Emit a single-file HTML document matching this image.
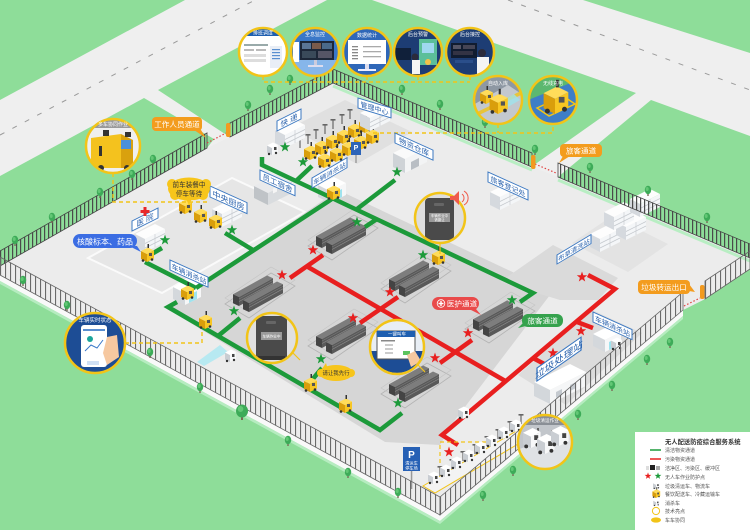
<!DOCTYPE html>
<html><head><meta charset="utf-8"><style>
html,body{margin:0;padding:0;background:#efefef;}
svg{display:block}
text{font-family:"Liberation Sans","Noto Sans CJK SC",sans-serif;}
</style></head><body>
<svg width="750" height="530" viewBox="0 0 750 530" xmlns="http://www.w3.org/2000/svg">
<defs>
<pattern id="fp" width="4" height="100" patternUnits="userSpaceOnUse"><rect width="1.2" height="100" fill="#4a4a4a"/></pattern>
<pattern id="fpb" width="5" height="100" patternUnits="userSpaceOnUse"><rect width="1.1" height="100" fill="#6a6a6a"/></pattern>
<polygon id="st" points="0,-5.5 1.3,-1.8 5.2,-1.7 2.1,0.7 3.2,4.5 0,2.2 -3.2,4.5 -2.1,0.7 -5.2,-1.7 -1.3,-1.8"/>
<g id="tr"><rect x="-0.7" y="0" width="1.4" height="5" fill="#7a6a55"/><ellipse cx="0" cy="-1" rx="3.2" ry="4.2" fill="#3dab58"/><ellipse cx="-0.8" cy="-2" rx="1.5" ry="2" fill="#62c775"/></g>
<g id="yv"><polygon points="-6,-3 0,0 0,-8 -6,-11" fill="#d99e0c"/><polygon points="0,0 7,-3.5 7,-11.5 0,-8" fill="#f7c623"/><polygon points="-6,-11 0,-8 7,-11.5 1,-14.5" fill="#ffdc5a"/><rect x="2" y="-9" width="3" height="3" fill="#555"/><rect x="0.5" y="-18" width="1.5" height="4" fill="#333"/><circle cx="-4" cy="-1.5" r="1.3" fill="#333"/><circle cx="5" cy="-2.5" r="1.3" fill="#333"/></g>
<g id="wv"><polygon points="-5,-2.5 0,0 0,-7 -5,-9.5" fill="#c9cdd2"/><polygon points="0,0 6,-3 6,-10 0,-7" fill="#f7f8f9"/><polygon points="-5,-9.5 0,-7 6,-10 1,-12.5" fill="#ffffff"/><rect x="2" y="-8" width="2.5" height="3" fill="#444"/><circle cx="-3" cy="-1" r="1.2" fill="#333"/><circle cx="4" cy="-2" r="1.2" fill="#333"/></g>
<g id="rk"><polygon points="-18,-3 16,-21.7 10,-24.5 -24,-5.8" fill="#7d7d7d"/><polygon points="-18,6 16,-12.7 16,-21.7 -18,-3" fill="#595959"/><polygon points="-18,6 -18,-3 -24,-5.8 -24,3.2" fill="#444"/><line x1="-18" y1="1.5" x2="16" y2="-17.2" stroke="#8c8c8c" stroke-width="0.6"/><line x1="-18" y1="-1" x2="16" y2="-19.7" stroke="#8c8c8c" stroke-width="0.4"/></g>
<g id="rg"><polygon points="-32,4 14,-27 38,-14 -8,18" fill="none" stroke="#b3b3b3" stroke-width="0.8"/><polygon points="-32,-2 14,-33 38,-20 -8,12" fill="none" stroke="#c4c4c4" stroke-width="0.6"/><use href="#rk"/><use href="#rk" x="10" y="6"/></g>
<g id="wb"><polygon points="0,0 -10,-5 -10,-18 0,-13" fill="#d5d9de"/><polygon points="0,0 20,-10 20,-23 0,-13" fill="#f4f6f8"/><polygon points="0,-13 20,-23 10,-28 -10,-18" fill="#fdfdfd"/><line x1="0" y1="-4" x2="20" y2="-14" stroke="#c4c8cd" stroke-width="0.7"/><line x1="0" y1="-8.5" x2="20" y2="-18.5" stroke="#c4c8cd" stroke-width="0.7"/><line x1="10" y1="-5" x2="10" y2="-18" stroke="#c4c8cd" stroke-width="0.6"/></g>
<g id="ss"><polygon points="0,0 -12,-6 -12,-18 0,-12" fill="#d4d8dc"/><polygon points="0,0 16,-8 16,-20 0,-12" fill="#f6f7f8"/><polygon points="0,-12 16,-20 4,-26 -12,-18" fill="#ffffff"/><polygon points="4,-2 12,-6 12,-14 4,-10" fill="#9fe3ee"/></g>
<g id="ch"><rect x="-0.7" y="-9" width="1.4" height="9" fill="#7a7a7a"/><rect x="-2.5" y="-10" width="5" height="1.6" fill="#666"/></g>
<clipPath id="c24"><circle r="23"/></clipPath>
<clipPath id="c25"><circle r="24"/></clipPath>
<clipPath id="c27"><circle r="26"/></clipPath>
<clipPath id="c30"><circle r="29"/></clipPath>
</defs>

<!-- background roads -->
<rect width="750" height="530" fill="#efefef"/>
<!-- grass -->
<g fill="#8edd99">
<polygon points="0,0 185,0 0,100"/>
<polygon points="0,176 144,98 214,139 207,148 0,266"/>
<polygon points="158,90 327,0 372,0 636,93 534,165 532,167 333,83 230,137 222,132"/>
<polygon points="651,100 750,136 750,258 558,177"/>
<polygon points="583,0 750,0 750,53"/>
<polygon points="0,275 440,515 683,310 705,299 750,269 750,530 0,530"/>
</g>
<!-- road dashes -->
<line x1="0" y1="135" x2="255" y2="0" stroke="#9a9a9a" stroke-width="1" stroke-dasharray="5 9"/>
<line x1="508" y1="0" x2="750" y2="90" stroke="#9a9a9a" stroke-width="1" stroke-dasharray="5 9"/>

<!-- platform -->
<polygon points="0,266 207,148 230,137 333,83 532,167 558,177 750,258 750,269 705,299 683,310 440,515 0,275" fill="#ececec"/>
<polygon points="0,275 440,515 683,310 683,316 440,521 0,281" fill="#f9f9f9"/>
<polygon points="0,281 440,521 683,316 683,319 440,524 0,284" fill="#b6ecc0"/>
<polyline points="333,86 532,170" fill="none" stroke="#b8eec3" stroke-width="3"/>
<polyline points="558,180 750,261" fill="none" stroke="#b8eec3" stroke-width="3"/>

<!-- zones -->
<polygon points="290,128 345,100 412,132 357,164" fill="#e0e0e0"/>
<polygon points="88,258 232,178 305,212 162,293" fill="#e6e6e6" stroke="#fafafa" stroke-width="2"/>
<polygon points="338,190 553,291 455,420 440,445 385,442 166,308 196,288" fill="#d6d6d6"/>
<polygon points="500,282 553,245 618,278 598,300 560,300" fill="#dadada"/>
<polygon points="572,243 612,216 668,244 628,272" fill="#e3e3e3"/>
<polygon points="518,375 592,310 642,333 566,405" fill="#dcdcdc"/>

<!-- parking top -->
<use href="#ch" x="300" y="148"/><use href="#ch" x="308" y="144"/><use href="#ch" x="316" y="139"/><use href="#ch" x="325" y="134"/><use href="#ch" x="333" y="129"/><use href="#ch" x="342" y="124"/><use href="#ch" x="350" y="119"/>
<use href="#yv" x="310" y="160"/><use href="#yv" x="321" y="155"/><use href="#yv" x="332" y="149"/><use href="#yv" x="343" y="144"/><use href="#yv" x="354" y="138"/><use href="#yv" x="365" y="133"/>
<use href="#yv" x="324" y="168"/><use href="#yv" x="336" y="162"/><use href="#yv" x="348" y="156"/><use href="#yv" x="360" y="150"/><use href="#yv" x="372" y="144"/>
<rect x="351" y="142" width="10" height="13" fill="#2d64b8"/><text x="356" y="150" font-size="7" fill="#fff" text-anchor="middle" font-weight="bold">P</text><rect x="355.3" y="155" width="1.4" height="8" fill="#999"/>

<!-- buildings -->
<use href="#wb" x="285" y="148"/>
<use href="#wb" x="370" y="131"/>
<use href="#wb" x="222" y="227"/>
<use href="#wb" x="145" y="252"/>
<use href="#wb" x="500" y="210"/>
<use href="#wb" x="600" y="252"/><use href="#wb" x="626" y="240"/><use href="#wb" x="614" y="230"/><use href="#wb" x="640" y="217"/>
<g transform="translate(268,205)"><polygon points="0,0 -14,-7 -14,-19 0,-12" fill="#bfc3c7"/><polygon points="0,0 24,-12 24,-24 0,-12" fill="#d9dcdf"/><polygon points="0,-12 24,-24 10,-31 -14,-19" fill="#e9eaec"/><rect x="5" y="-14" width="4" height="5" fill="#f5f5f5" transform="skewY(-26)"/></g>
<g transform="translate(405,173)"><polygon points="0,0 -12,-6 -12,-20 0,-14" fill="#cfd3d7"/><polygon points="0,0 22,-11 22,-25 0,-14" fill="#f3f4f5"/><polygon points="0,-14 22,-25 10,-31 -12,-20" fill="#fafafa"/><polygon points="6,-3 14,-7 14,-15 6,-11" fill="#b9bec4"/></g>
<use href="#ss" x="185" y="305"/>
<use href="#ss" x="330" y="203"/>
<use href="#ss" x="605" y="352"/>
<g transform="translate(550,404)"><polygon points="0,0 -16,-8 -16,-22 0,-14" fill="#d3d7db"/><polygon points="0,0 36,-18 36,-32 0,-14" fill="#f5f6f7"/><polygon points="0,-14 36,-32 20,-40 -16,-22" fill="#ffffff"/><polygon points="6,-6 12,-9 12,-15 6,-12" fill="#c5cad0"/><polygon points="20,-13 26,-16 26,-22 20,-19" fill="#c5cad0"/></g>
<polygon points="197,362 220,345 228,352 204,366" fill="#aee9f2" opacity="0.85"/>

<!-- racks -->
<use href="#rg" x="340" y="242"/>
<use href="#rg" x="257" y="300"/>
<use href="#rg" x="413" y="285"/>
<use href="#rg" x="340" y="342"/>
<use href="#rg" x="497" y="325"/>
<use href="#rg" x="413" y="390"/>

<!-- green paths -->
<g fill="none" stroke="#1c9a3a" stroke-width="4.5" stroke-linejoin="miter" stroke-linecap="butt">
<polyline points="262,157 262,165 533,293 520,302"/>
<polyline points="312,166 296,181"/>
<polyline points="357,209 395,180"/>
<polyline points="377,219 365,227"/>
<polyline points="335,197 196,288"/>
<polyline points="225,233 253,250"/>
<polyline points="145,262 196,288"/>
<polyline points="150,255 162,248"/>
<polyline points="177,302 168,307 380,430 402,413"/>
<polyline points="218,336 240,318"/>
<polyline points="307,386 322,368"/>
</g>
<!-- red paths -->
<g fill="none" stroke="#e81f1f" stroke-width="4.5" stroke-linejoin="miter">
<polyline points="308,267 507,382"/>
<polyline points="290,278 323,255"/>
<polyline points="360,323 398,297"/>
<polyline points="440,363 472,340"/>
<polyline points="588,275 615,289 442,435 458,445"/>
<polyline points="577,322 593,328"/>
<polyline points="533,358 548,366"/>
</g>

<!-- stars -->
<g fill="#1c9a3a">
<use href="#st" x="285" y="147"/><use href="#st" x="303" y="162"/><use href="#st" x="232" y="230"/><use href="#st" x="165" y="240"/><use href="#st" x="357" y="222"/><use href="#st" x="397" y="172"/><use href="#st" x="423" y="255"/><use href="#st" x="512" y="300"/><use href="#st" x="234" y="311"/><use href="#st" x="321" y="359"/><use href="#st" x="398" y="403"/>
</g>
<g fill="#e81f1f">
<use href="#st" x="282" y="275"/><use href="#st" x="313" y="250"/><use href="#st" x="390" y="292"/><use href="#st" x="353" y="318"/><use href="#st" x="468" y="333"/><use href="#st" x="435" y="358"/><use href="#st" x="582" y="277"/><use href="#st" x="581" y="331"/><use href="#st" x="553" y="353"/><use href="#st" x="449" y="452"/>
</g>

<!-- vehicles -->
<use href="#wv" x="272" y="155"/>
<use href="#yv" x="147" y="262"/>
<use href="#yv" x="185" y="214"/><use href="#yv" x="200" y="223"/><use href="#yv" x="215" y="229"/>
<use href="#yv" x="187" y="300"/>
<use href="#yv" x="333" y="200"/>
<use href="#yv" x="438" y="265"/>
<use href="#yv" x="205" y="329"/>
<use href="#yv" x="310" y="392"/>
<use href="#yv" x="345" y="413"/>
<use href="#wv" x="230" y="362"/>
<use href="#wv" x="463" y="419"/>
<use href="#wv" x="616" y="350"/>

<!-- bottom parking -->
<polyline points="440,470 440,442 527,442" fill="none" stroke="#f2c418" stroke-width="1.2" stroke-dasharray="4 3"/>
<polygon points="423,486 518,430 530,437 435,493" fill="#f3f3f3" stroke="#f2c418" stroke-width="1"/>
<use href="#ch" x="440" y="476"/><use href="#ch" x="452" y="469"/><use href="#ch" x="463" y="461"/><use href="#ch" x="475" y="454"/><use href="#ch" x="487" y="446"/><use href="#ch" x="498" y="439"/><use href="#ch" x="510" y="431"/><use href="#ch" x="521" y="424"/>
<use href="#wv" x="433" y="484"/><use href="#wv" x="445" y="477"/><use href="#wv" x="456" y="469"/><use href="#wv" x="468" y="462"/><use href="#wv" x="480" y="454"/><use href="#wv" x="491" y="447"/><use href="#wv" x="503" y="439"/><use href="#wv" x="515" y="432"/>
<rect x="403" y="447" width="17" height="24" fill="#2660b5"/>
<text x="411.5" y="458" font-size="10" fill="#fff" text-anchor="middle" font-weight="bold">P</text>
<text x="411.5" y="464.5" font-size="4.2" fill="#fff" text-anchor="middle">清运车</text>
<text x="411.5" y="469.5" font-size="4.2" fill="#fff" text-anchor="middle">停车场</text>
<rect x="410.8" y="471" width="1.5" height="18" fill="#999"/>

<!-- fences -->
<g stroke="#444" stroke-width="0.8">
<polygon points="0,266 207,148 207,133 0,251" fill="url(#fp)"/>
<polygon points="230,137 333,83 333,69 230,123" fill="url(#fp)"/>
<polygon points="333,83 532,167 532,153 333,69" fill="url(#fp)"/>
<polygon points="558,177 750,258 750,244 558,163" fill="url(#fp)"/>
</g>
<g stroke="#666" stroke-width="0.8">
<polygon points="0,275 440,515 440,497 0,257" fill="url(#fpb)"/>
<polygon points="440,515 683,310 683,292 440,497" fill="url(#fpb)"/>
<polygon points="705,299 750,269 750,251 705,281" fill="url(#fpb)"/>
</g>
<!-- gates -->
<line x1="207" y1="143" x2="226" y2="133" stroke="#e04040" stroke-width="1.2" stroke-dasharray="1.5 2"/>
<line x1="535" y1="164" x2="556" y2="173" stroke="#e04040" stroke-width="1.2" stroke-dasharray="1.5 2"/>
<line x1="684" y1="306" x2="700" y2="298" stroke="#e04040" stroke-width="1.2" stroke-dasharray="1.5 2"/>
<rect x="226" y="123" width="4.5" height="14" rx="2" fill="#f29a1f"/>
<rect x="531" y="155" width="4.5" height="14" rx="2" fill="#f29a1f"/>
<rect x="700" y="285" width="4.5" height="14" rx="2" fill="#f29a1f"/>

<!-- trees -->
<g>
<use href="#tr" x="248" y="106"/><use href="#tr" x="270" y="90"/><use href="#tr" x="290" y="80"/><use href="#tr" x="153" y="160"/><use href="#tr" x="132" y="175"/><use href="#tr" x="100" y="193"/><use href="#tr" x="52" y="218"/><use href="#tr" x="15" y="241"/>
<use href="#tr" x="402" y="90"/><use href="#tr" x="440" y="105"/><use href="#tr" x="485" y="123"/><use href="#tr" x="535" y="150"/><use href="#tr" x="590" y="168"/><use href="#tr" x="648" y="191"/><use href="#tr" x="707" y="218"/>
<use href="#tr" x="23" y="281"/><use href="#tr" x="67" y="306"/><use href="#tr" x="150" y="353"/><use href="#tr" x="200" y="388"/><use href="#tr" x="288" y="441"/><use href="#tr" x="348" y="473"/>
<use href="#tr" x="670" y="343"/><use href="#tr" x="647" y="360"/><use href="#tr" x="612" y="386"/><use href="#tr" x="578" y="415"/><use href="#tr" x="513" y="471"/><use href="#tr" x="483" y="496"/><use href="#tr" x="398" y="493"/>
<g transform="translate(242,413)"><rect x="-1" y="0" width="2" height="7" fill="#7a6a55"/><ellipse cx="0" cy="-2" rx="6" ry="6.5" fill="#3dab58"/><ellipse cx="-1.5" cy="-4" rx="2.8" ry="3" fill="#62c775"/></g>
</g>

<!-- yellow dashed connectors -->
<g fill="none" stroke="#f2c418" stroke-width="1.4" stroke-dasharray="4 3">
<polyline points="263,76 263,82 470,82"/>
<line x1="315" y1="76" x2="315" y2="82"/><line x1="367" y1="76" x2="367" y2="82"/><line x1="418" y1="76" x2="418" y2="82"/><line x1="470" y1="76" x2="470" y2="82"/>
<polyline points="373,133 553,133 553,124"/>
<line x1="498" y1="124" x2="498" y2="133"/>
<polyline points="113,173 113,202 210,202"/>
<polyline points="125,343 202,343 202,330"/>
</g>
<line x1="440" y1="243" x2="440" y2="254" stroke="#f2c418" stroke-width="1.2"/>
<line x1="292" y1="352" x2="300" y2="360" stroke="#f2c418" stroke-width="1.2"/>
<line x1="418" y1="365" x2="425" y2="372" stroke="#f2c418" stroke-width="1.2"/>

<!-- top circles -->
<g transform="translate(263,52)"><g clip-path="url(#c24)"><rect x="-25" y="-25" width="50" height="50" fill="#fff"/><rect x="-25" y="-25" width="50" height="9" fill="#1f5fb0"/><rect x="-19" y="-8" width="24" height="2" fill="#9aa"/><rect x="-19" y="-3" width="10" height="2" fill="#bbb"/><rect x="-7" y="-3" width="10" height="2" fill="#bbb"/><rect x="-19" y="2" width="22" height="3" fill="#ddd"/><rect x="-19" y="7" width="22" height="3" fill="#ddd"/><rect x="7" y="-6" width="12" height="22" fill="#e9eef6"/><rect x="9" y="-3" width="8" height="1.2" fill="#5a8fd0"/><rect x="9" y="0" width="8" height="1.2" fill="#5a8fd0"/><rect x="9" y="3" width="8" height="1.2" fill="#5a8fd0"/><rect x="9" y="6" width="8" height="1.2" fill="#5a8fd0"/></g><circle r="24" fill="none" stroke="#f2c418" stroke-width="2.5"/><text y="-17.5" font-size="5" fill="#fff" text-anchor="middle">排班调度</text></g>
<g transform="translate(315,52)"><g clip-path="url(#c24)"><rect x="-25" y="-25" width="50" height="50" fill="#3a78c8"/><rect x="-25" y="8" width="50" height="20" fill="#86b6ea"/><rect x="-22" y="-10" width="6" height="20" fill="#fff"/><rect x="-15" y="-11" width="34" height="19" fill="#1d2738"/><rect x="-13" y="-9" width="9" height="6" fill="#5a7595"/><rect x="-3" y="-9" width="9" height="6" fill="#7a5a4a"/><rect x="7" y="-9" width="10" height="6" fill="#4a6a8a"/><rect x="-13" y="-1" width="14" height="7" fill="#3a4a5a"/><rect x="3" y="-1" width="14" height="7" fill="#556"/><rect x="-1" y="8" width="3" height="5" fill="#ccd"/><rect x="-7" y="13" width="15" height="2" fill="#dde"/></g><circle r="24" fill="none" stroke="#f2c418" stroke-width="2.5"/><text y="-16" font-size="5" fill="#fff" text-anchor="middle">全息监控</text></g>
<g transform="translate(367,52)"><g clip-path="url(#c24)"><rect x="-25" y="-25" width="50" height="50" fill="#2f67b8"/><rect x="-19" y="-12" width="38" height="24" fill="#fff"/><rect x="-15" y="-6" width="6" height="1.3" fill="#888"/><rect x="-15" y="-3" width="6" height="1.3" fill="#888"/><rect x="-15" y="0" width="6" height="1.3" fill="#888"/><rect x="-15" y="3" width="6" height="1.3" fill="#888"/><rect x="-15" y="6" width="6" height="1.3" fill="#888"/><rect x="-4" y="-6" width="18" height="1.3" fill="#aaa"/><rect x="-4" y="-1" width="18" height="1.3" fill="#aaa"/><rect x="-4" y="4" width="18" height="1.3" fill="#aaa"/><rect x="-2" y="12" width="4" height="5" fill="#dde"/><rect x="-9" y="17" width="18" height="2" fill="#eef"/></g><circle r="24" fill="none" stroke="#f2c418" stroke-width="2.5"/><text y="-15" font-size="5" fill="#fff" text-anchor="middle">数据统计</text></g>
<g transform="translate(418,52)"><g clip-path="url(#c24)"><rect x="-25" y="-25" width="50" height="50" fill="#1d3d74"/><rect x="-23" y="-4" width="16" height="12" fill="#10203a"/><rect x="1" y="-13" width="18" height="26" fill="#5bbf9a"/><rect x="4" y="-9" width="12" height="10" fill="#9fd8f0"/><circle cx="-3" cy="5" r="3.5" fill="#2b2b3b"/><rect x="-6" y="8" width="8" height="14" fill="#f4f4f4"/><circle cx="10" cy="10" r="3" fill="#f3c24a"/></g><circle r="24" fill="none" stroke="#f2c418" stroke-width="2.5"/><text y="-16" font-size="5" fill="#fff" text-anchor="middle">后台预警</text></g>
<g transform="translate(470,52)"><g clip-path="url(#c24)"><rect x="-25" y="-25" width="50" height="50" fill="#1d3d74"/><rect x="-19" y="-9" width="26" height="15" fill="#111c30"/><rect x="-17" y="-7" width="8" height="4" fill="#556"/><rect x="-7" y="-7" width="12" height="4" fill="#445"/><rect x="-17" y="-1" width="20" height="4" fill="#334"/><circle cx="12" cy="1" r="4" fill="#2b2b3b"/><rect x="7" y="5" width="12" height="18" fill="#f4f4f4"/><rect x="-15" y="8" width="18" height="3" fill="#2a4e8a"/></g><circle r="24" fill="none" stroke="#f2c418" stroke-width="2.5"/><text y="-16" font-size="5" fill="#fff" text-anchor="middle">后台接控</text></g>
<g transform="translate(498,100)"><g clip-path="url(#c24)"><rect x="-25" y="-25" width="50" height="50" fill="#8e98a3"/><polygon points="-25,5 10,-15 25,-5 25,25 -25,25" fill="#c3c8ce"/><polygon points="-25,14 25,-10 25,-6 -25,18" fill="#e8c43a"/><polygon points="2,2 16,-6 22,0 8,8" fill="#9fe3ee" opacity="0.8"/><use href="#yv" x="-12" y="4" transform="scale(1)"/><g transform="translate(0,14) scale(1.4)"><use href="#yv"/></g></g><circle r="24" fill="none" stroke="#f2c418" stroke-width="2.5"/><text y="-15" font-size="5" fill="#fff" text-anchor="middle">自动入库</text></g>
<g transform="translate(553,100)"><g clip-path="url(#c24)"><rect x="-25" y="-25" width="50" height="50" fill="#5cb870"/><polygon points="-25,0 25,-20 25,25 -25,25" fill="#3e7ec7"/><polygon points="-16,8 10,-4 22,4 -4,16" fill="none" stroke="#f2c418" stroke-width="1.5"/><g transform="translate(2,14) scale(1.9)"><use href="#yv"/></g></g><circle r="24" fill="none" stroke="#f2c418" stroke-width="2.5"/><text y="-15" font-size="5" fill="#fff" text-anchor="middle">无线充电</text></g>

<!-- other circles -->
<g transform="translate(113,146)"><g clip-path="url(#c27)"><rect x="-28" y="-28" width="56" height="56" fill="#efefef"/><rect x="-28" y="-28" width="56" height="10" fill="#9a9a9a"/><polygon points="-22,-8 8,-12 8,22 -22,22" fill="#f4c21e"/><polygon points="8,-12 20,-6 20,22 8,22" fill="#d9a10e"/><rect x="8" y="-6" width="10" height="9" fill="#4a90d9"/><rect x="-10" y="-16" width="6" height="6" fill="#333"/><rect x="12" y="-14" width="6" height="5" fill="#333"/><rect x="-14" y="0" width="3" height="10" fill="#333"/><circle cx="-12" cy="22" r="3" fill="#333"/><circle cx="14" cy="22" r="3" fill="#333"/></g><circle r="27" fill="none" stroke="#f2c418" stroke-width="2.5"/><text y="-20" font-size="5" fill="#fff" text-anchor="middle">多车协同作业</text></g>
<g transform="translate(95,343)"><g clip-path="url(#c30)"><rect x="-30" y="-30" width="60" height="60" fill="#1d4d95"/><rect x="-14" y="-18" width="26" height="42" rx="3" fill="#fff"/><rect x="-12" y="-14" width="22" height="2" fill="#5a8fd0"/><circle cx="-5" cy="-4" r="3" fill="#1aa59a"/><polyline points="-10,8 -4,2 2,5 8,-3" fill="none" stroke="#3a78c8" stroke-width="1"/><polygon points="12,-6 22,-8 24,14 12,22 8,10" fill="#f6c8a0"/><rect x="-8" y="18" width="12" height="4" fill="#cfe0f5"/></g><circle r="30" fill="none" stroke="#f2c418" stroke-width="2.5"/><text y="-21" font-size="5.5" fill="#fff" text-anchor="middle">车辆实时状态</text></g>
<g transform="translate(272,338)"><g clip-path="url(#c25)"><rect x="-26" y="-26" width="52" height="52" fill="#e0e0e0"/><rect x="-16" y="-22" width="31" height="44" rx="4" fill="#4a4a4a"/><rect x="-6" y="-17" width="10" height="3" rx="1" fill="#666"/><rect x="-11" y="-6" width="21" height="8" fill="#9a9a9a"/><rect x="-14" y="18" width="27" height="4" fill="#333"/></g><circle r="25" fill="none" stroke="#f2c418" stroke-width="2.5"/><text x="-0.5" y="-0.5" font-size="3.6" fill="#fff" text-anchor="middle">车辆作业中</text></g>
<g transform="translate(397,347)"><g clip-path="url(#c27)"><rect x="-28" y="-28" width="56" height="56" fill="#e8eef5"/><rect x="-28" y="4" width="56" height="30" fill="#1d4d95"/><rect x="-20" y="-16" width="38" height="28" fill="#fff" stroke="#555" stroke-width="1"/><rect x="-20" y="-16" width="38" height="6" fill="#1f5fb0"/><rect x="-16" y="-7" width="14" height="1.5" fill="#888"/><rect x="-12" y="-3" width="8" height="2" fill="#ccc"/><rect x="-12" y="1" width="8" height="2" fill="#ccc"/><rect x="-12" y="5" width="8" height="2" fill="#ccc"/><rect x="6" y="4" width="7" height="4" fill="#5cc45e"/><polygon points="10,8 18,4 24,14 14,20" fill="#f6c8a0"/></g><circle r="27" fill="none" stroke="#f2c418" stroke-width="2.5"/><text y="-11.5" font-size="4.5" fill="#fff" text-anchor="middle">一键叫车</text></g>
<g transform="translate(440,218)"><g clip-path="url(#c25)"><rect x="-26" y="-26" width="52" height="52" fill="#dedede"/><rect x="-15" y="-20" width="29" height="42" rx="4" fill="#4a4a4a"/><rect x="-6" y="-15" width="10" height="3" rx="1" fill="#666"/><rect x="-11" y="-5" width="21" height="9" fill="#9a9a9a"/></g><circle r="25" fill="none" stroke="#f2c418" stroke-width="2.5"/><text x="-0.5" y="-1" font-size="3.4" fill="#fff" text-anchor="middle">车辆作业中</text><text x="-0.5" y="3" font-size="3.4" fill="#fff" text-anchor="middle">请避让</text></g>
<g transform="translate(456,198)"><polygon points="-6,-2 -2,-2 3,-7 3,7 -2,2 -6,2" fill="#ef5a4a"/><path d="M6,-4 A5,5 0 0 1 6,4" fill="none" stroke="#ef5a4a" stroke-width="1"/><path d="M8,-7 A8,8 0 0 1 8,7" fill="none" stroke="#ef5a4a" stroke-width="1"/></g>
<g transform="translate(545,442)"><g clip-path="url(#c27)"><rect x="-28" y="-28" width="56" height="56" fill="#c2c6cb"/><rect x="-28" y="-28" width="56" height="11" fill="#8a8f96"/><polygon points="-28,8 28,-14 28,28 -28,28" fill="#dfe2e5"/><rect x="-8" y="-14" width="2" height="14" fill="#666"/><rect x="6" y="-12" width="2" height="14" fill="#666"/><g transform="translate(-14,6) scale(1.6)"><use href="#wv"/></g><g transform="translate(0,12) scale(1.6)"><use href="#wv"/></g><g transform="translate(14,4) scale(1.6)"><use href="#wv"/></g></g><circle r="27" fill="none" stroke="#f2c418" stroke-width="2.5"/><text y="-20" font-size="4.6" fill="#fff" text-anchor="middle">垃圾清运作业</text></g>

<!-- blue isometric labels -->
<g font-size="7.5" fill="#2a62ad" text-anchor="middle">
<g transform="matrix(1,-0.5,0,1,277,121)"><rect width="24" height="10" fill="#fff" stroke="#3b78c2"/><text x="12" y="8" fill="#2a62ad">快 递</text></g>
<g transform="matrix(1,0.3,0,1,358,98)"><rect width="33" height="10" fill="#fff" stroke="#3b78c2"/><text x="16.5" y="8" font-size="7" fill="#2a62ad">管理中心</text></g>
<g transform="matrix(1,0.45,0,1,395,133)"><rect width="38" height="10" fill="#fff" stroke="#3b78c2"/><text x="19" y="8" fill="#2a62ad">物资仓库</text></g>
<g transform="matrix(1,0.45,0,1,260,170)"><rect width="35" height="10" fill="#fff" stroke="#3b78c2"/><text x="17.5" y="8" fill="#2a62ad">员工宿舍</text></g>
<g transform="matrix(1,-0.58,0,1,312,178)"><rect width="35" height="10" fill="#fff" stroke="#3b78c2"/><text x="17.5" y="8" font-size="6.5" fill="#2a62ad">车辆消杀站</text></g>
<g transform="matrix(1,0.45,0,1,210,186)"><rect width="37" height="11" fill="#fff" stroke="#3b78c2"/><text x="18.5" y="9" font-size="8" fill="#2a62ad">中央厨房</text></g>
<g transform="matrix(1,-0.5,0,1,132,221)"><rect width="26" height="10" fill="#fff" stroke="#3b78c2"/><text x="13" y="8" fill="#2a62ad">医 院</text></g>
<g transform="matrix(1,0.45,0,1,170,260)"><rect width="38" height="10" fill="#fff" stroke="#3b78c2"/><text x="19" y="8" font-size="7" fill="#2a62ad">车辆消杀站</text></g>
<g transform="matrix(1,0.45,0,1,488,172)"><rect width="40" height="10" fill="#fff" stroke="#3b78c2"/><text x="20" y="8" font-size="7" fill="#2a62ad">旅客登记处</text></g>
<g transform="matrix(1,-0.6,0,1,557,255)"><rect width="34" height="9" fill="#fff" stroke="#3b78c2"/><text x="17" y="7.3" font-size="6.3" fill="#2a62ad">布草清洗站</text></g>
<g transform="matrix(1,0.45,0,1,593,312)"><rect width="39" height="10" fill="#fff" stroke="#3b78c2"/><text x="19.5" y="8" font-size="7" fill="#2a62ad">车辆消杀站</text></g>
<g transform="matrix(1,-0.7,0,1,537,368)"><rect width="44" height="13" fill="#fff" stroke="#3b78c2" stroke-width="1.3"/><text x="22" y="10.5" font-size="9.5" fill="#2a62ad">垃圾处理站</text></g>
</g>
<g fill="#e8282a"><rect x="143.5" y="207" width="3" height="9"/><rect x="140.5" y="210" width="9" height="3"/></g>

<!-- pills -->
<g text-anchor="middle" fill="#fff">
<rect x="152" y="117" width="50" height="14" rx="4" fill="#f39c1e"/><polygon points="194,130 201,130 206,138" fill="#f39c1e"/><text x="177" y="127" font-size="7.6">工作人员通道</text>
<rect x="560" y="144" width="42" height="13" rx="4" fill="#f39c1e"/><polygon points="563,156 570,156 559,163" fill="#f39c1e"/><text x="581" y="153.5" font-size="7.6">旅客通道</text>
<rect x="638" y="280" width="52" height="14" rx="4" fill="#f39c1e"/><polygon points="689,284 689,291 695,292" fill="#f39c1e"/><text x="664" y="290" font-size="7.6">垃圾转运出口</text>
<rect x="432" y="297" width="47" height="13" rx="6.5" fill="#e94a4a"/><polygon points="469,309 476,309 481,315" fill="#e94a4a"/><circle cx="441" cy="303.5" r="3.8" fill="none" stroke="#fff" stroke-width="0.8"/><rect x="440.3" y="301" width="1.4" height="5" fill="#fff"/><rect x="438.5" y="302.8" width="5" height="1.4" fill="#fff"/><text x="462" y="306.5" font-size="7.6">医护通道</text>
<rect x="522" y="314" width="41" height="13" rx="6" fill="#35a24d"/><polygon points="526,320 518,328 530,325" fill="#35a24d"/><text x="542.5" y="323.5" font-size="7.6">旅客通道</text>
<rect x="73" y="234" width="64" height="14" rx="7" fill="#3b6de3"/><polygon points="129,246 137,246 141,252" fill="#3b6de3"/><text x="105" y="244.5" font-size="8">核酸标本、药品</text>
</g>
<!-- yellow bubbles -->
<g fill="#f7c51b">
<ellipse cx="189" cy="189" rx="21" ry="11.5"/><circle cx="172" cy="184" r="5"/><circle cx="206" cy="184" r="5"/><circle cx="175" cy="195" r="5"/><circle cx="203" cy="195" r="5"/><polygon points="186,199 192,199 189,205"/>
<ellipse cx="336" cy="373" rx="17" ry="8"/><circle cx="321" cy="373" r="4"/><circle cx="351" cy="373" r="4"/><polygon points="322,369 326,363 328,370"/>
</g>
<text x="189" y="187" font-size="6.6" fill="#333" text-anchor="middle">前车装餐中</text>
<text x="189" y="196" font-size="6.6" fill="#333" text-anchor="middle">停车等待</text>
<text x="336" y="375" font-size="5.4" fill="#333" text-anchor="middle">请让我先行</text>

<!-- legend -->
<rect x="635" y="432" width="115" height="98" fill="#fff"/>
<text x="665" y="444" font-size="6.3" font-weight="bold" fill="#333">无人配送防疫综合服务系统</text>
<g font-size="5" fill="#555">
<line x1="650" y1="450" x2="661" y2="450" stroke="#1c9a3a" stroke-width="1.5"/><text x="665" y="452">清洁物资通道</text>
<line x1="650" y1="459" x2="661" y2="459" stroke="#e81f1f" stroke-width="1.5"/><text x="665" y="461">污染物资通道</text>
<rect x="646" y="466" width="3" height="4" fill="#ddd"/><rect x="650" y="465" width="5" height="5" fill="#222"/><rect x="656" y="466" width="4" height="4" fill="#aaa"/><text x="665" y="470">洁净区、污染区、缓冲区</text>
<g transform="translate(648,476) scale(0.65)" fill="#e81f1f"><use href="#st"/></g><g transform="translate(658,476) scale(0.65)" fill="#1c9a3a"><use href="#st"/></g><text x="665" y="479">无人车作业防护点</text>
<g transform="translate(656,489) scale(0.6)"><use href="#wv"/></g><text x="665" y="488">垃圾清运车、物流车</text>
<g transform="translate(656,498) scale(0.6)"><use href="#yv"/></g><text x="665" y="496">餐饮配送车、冷藏运输车</text>
<g transform="translate(656,506) scale(0.55)"><use href="#wv"/></g><text x="665" y="505">消杀车</text>
<circle cx="656" cy="511" r="3.6" fill="none" stroke="#f2c418" stroke-width="1"/><text x="665" y="513">技术亮点</text>
<ellipse cx="656" cy="520" rx="5" ry="2.6" fill="#f2c418"/><text x="665" y="522">车车协同</text>
</g>
</svg>
</body></html>
